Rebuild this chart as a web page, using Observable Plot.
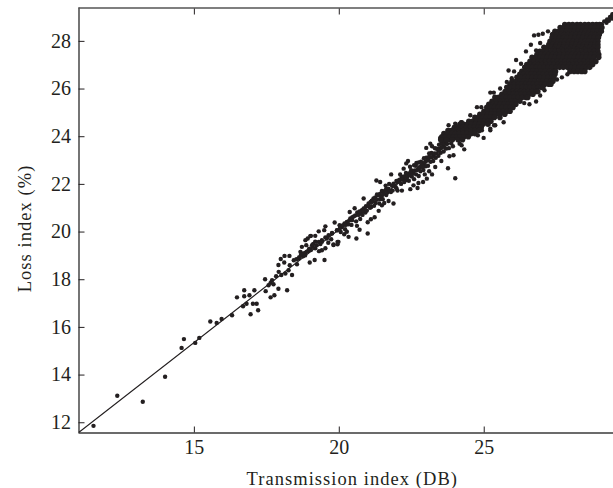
<!DOCTYPE html>
<html><head><meta charset="utf-8">
<script src="https://cdn.jsdelivr.net/npm/d3@7"></script>
<script src="https://cdn.jsdelivr.net/npm/@observablehq/plot@0.6"></script>
<style>html,body{margin:0;padding:0;background:#fff}svg{display:block}</style>
</head><body><div id="chart"></div>
<script>
const xTicks=[15,20,25];
const yTicks=[12,14,16,18,20,22,24,26,28];
const xDomain=[11.02,29.46];
const yDomain=[11.57,29.4];
const fitLine=[[11.02,11.6],[29,28.65]];
const xTitle=["Transmission index (DB)"];
const yTitle=["Loss index (%)"];
const color="#231f20";
const sparse=[[11.52,11.87],[12.34,13.13],[13.22,12.88],[13.99,13.93],[14.56,15.14],[14.64,15.51],[15.03,15.35],[15.17,15.56],[15.55,16.25],[15.77,16.19],[15.94,16.35],[16.3,16.51],[16.68,16.89],[16.8,16.99],[16.94,16.55],[17.02,16.99],[17.15,16.99],[17.2,16.72],
[16.47,17.26],[16.72,17.56],[16.72,17.31],[16.9,17.35],[17.07,17.56],[17.44,18.02],[17.46,17.52],[17.63,17.26],[17.76,17.35],[17.9,17.62],[18.2,17.56],[17.63,17.87],[17.56,17.77],[17.68,17.98],[17.73,17.81],[17.82,18.15],[17.91,18.33],[18.0,18.2],[18.14,18.26],[18.25,18.4],[18.37,18.2],[17.9,18.62],[18.1,18.72],[18.29,18.61],[17.98,18.87],[18.11,19.0],[18.28,19.0],[18.43,18.82],[18.54,18.65],[18.6,18.89],[18.71,19.03],[18.83,19.13],[18.66,19.17],[18.52,18.86],[18.75,18.98],[18.92,19.2],[19.02,19.25],[18.98,18.72],[19.15,18.83],[19.49,18.83],[18.86,19.45],[19.06,19.45],[18.91,19.73],[19.02,19.84],[19.17,19.84],[19.17,19.6],[19.29,19.59],[19.4,19.66],[19.52,19.77],[19.63,19.87],[19.75,19.96],[19.92,20.08],[19.8,19.46],[19.94,19.59],[19.4,19.24],[19.17,19.32],[19.3,19.2],[19.52,19.32],[18.71,19.38],[18.83,19.66],[19.0,19.83],[19.29,20.03],[19.52,20.24],[19.48,20.08],[19.84,20.4],[20.01,20.29]];
const band=[[19.4,19.59],[19.57,19.73],[19.75,19.94],[19.92,20.07],[20.09,20.21],[20.26,20.42],[20.38,20.57],[20.55,20.7],[20.72,20.78],[20.84,20.99],[21.01,21.2],[21.18,21.41],[21.36,21.54],[21.53,21.68],[21.7,21.82],[21.87,22.03],[22.05,22.17],[22.22,22.24],[22.39,22.38],[22.56,22.52],[22.73,22.66],[22.91,22.87],[23.08,23.08],[23.25,23.22],[23.42,23.43],[23.6,23.64],[23.77,23.85],[23.94,24.06],[24.11,24.13],[24.29,24.2],[24.46,24.34],
[20.18,20.36],[20.31,20.33],[20.45,20.62],[20.62,20.82],[20.78,20.92],[20.9,20.82],[21.06,21.02],[21.12,21.32],[21.25,21.22],[21.42,21.38],[21.47,21.72],[21.62,21.82],[21.62,21.55],[21.78,21.68],[21.95,21.88],[21.97,22.14],[22.13,22.02],[22.15,22.32],[22.3,22.48],[22.33,22.18],[22.48,22.6],[22.5,22.33],[22.65,22.42],[22.64,22.78],[22.8,22.55],[22.82,22.95],[22.98,22.76],[23.0,23.12],[23.15,22.95],[23.18,23.32],[23.33,23.12],[23.35,23.5],[23.5,23.33],[23.52,23.72],[23.68,23.5],[23.7,23.92],[23.86,23.72],[23.88,24.15],[24.02,23.95],[24.08,24.32],
[20.84,21.41],[20.53,21.0],[20.36,20.84],[21.28,22.16],[21.41,22.1],[21.79,22.42],[22.22,22.66],[22.37,22.98],[23.0,23.53],[23.14,23.71],[23.48,23.95],[22.31,22.88],[22.66,22.9],[23.2,23.6],[23.77,24.48],[24.0,24.55],[24.2,24.61],[23.83,24.27],[23.62,24.05],[23.95,24.4],
[24.0,22.26],[23.75,22.68],[24.31,23.47],[24.15,23.71],[24.22,23.64],[23.94,23.22],[23.8,23.18],[23.52,22.98],[23.31,22.73],[23.2,22.42],[23.02,22.24],[22.89,22.1],[22.7,21.85],[22.45,21.8],[22.73,22.06],[22.56,21.96],[23.1,22.55],[22.95,22.42],[21.87,21.2],[21.7,21.3],[21.47,21.12],[21.36,20.89],[21.55,21.22],[22.16,21.74],[22.01,21.74],[21.22,20.62],[21.09,20.54],[20.98,20.41],[20.98,19.94],[20.59,19.73],[20.7,20.1],[20.61,20.26],[20.32,19.8],[20.17,19.91],[20.26,20.01],[19.97,19.59],[19.8,19.48],[19.94,19.49]];
const bandCore=[[18.62,18.95],[18.68,19.05],[18.76,19.1],[18.82,19.02],[18.88,19.18],[18.96,19.3],[19.08,19.38],[20.02,20.15],[20.12,20.28],[20.22,20.3],[20.34,20.48],[20.44,20.5],[20.5,20.66],[20.66,20.72],[20.7,20.86],[20.82,20.88],[20.92,21.08],[21.0,21.1],[21.08,21.26],[21.16,21.3],[21.24,21.45],[21.3,21.36],[21.4,21.6],[21.46,21.5],[21.52,21.6],[21.58,21.74],[21.66,21.66],[21.72,21.74],[21.82,21.94],[21.9,21.96],[22.0,22.1],[22.08,22.2],[22.16,22.2],[22.26,22.34],[22.34,22.3],[22.42,22.46],[22.46,22.52],[22.52,22.45],[22.6,22.58],[22.68,22.6],[22.76,22.72],[22.84,22.8],[22.88,22.72],[22.96,22.94],[23.04,23.0],[23.1,23.16],[23.2,23.14],[23.28,23.3],[23.36,23.3],[23.46,23.5],[23.54,23.56],[23.62,23.72],[23.72,23.7],[23.78,23.96],[23.9,23.92],[23.98,24.14],[24.05,24.05],[24.16,24.22],[24.24,24.3],[24.36,24.28]];
const bandEdge=[[19.1,19.5],[19.22,19.45],[19.35,19.5],[19.62,19.55],[19.72,19.7],[20.05,20.0],[20.2,20.12],[20.42,20.3],[20.58,20.45],[20.72,20.55],[20.8,20.72],[20.95,20.9],[21.1,21.05],[21.2,21.1],[21.3,21.58],[21.38,21.2],[21.5,21.38],[21.6,21.95],[21.72,22.02],[21.84,21.74],[21.98,21.82],[22.1,22.42],[22.24,22.1],[22.4,22.15],[22.44,22.74],[22.58,22.22],[22.58,22.8],[22.74,22.35],[22.74,22.92],[22.9,22.6],[22.92,23.1],[23.06,22.78],[23.1,23.3],[23.24,22.98],[23.3,23.52],[23.42,23.2],[23.44,23.66],[23.6,23.38],[23.6,23.85],[23.78,23.52],[23.76,24.12],[23.92,23.6],[24.1,23.9],[24.3,24.05]];
const strays=[[26.72,28.25],[26.87,28.28],[27.02,28.32],[27.2,28.42],[26.61,27.86],[26.93,27.93],[26.44,27.58],[26.79,27.62],[26.27,27.06],[26.1,27.22],[25.84,26.78],[26.03,26.74],[25.95,26.45],[25.78,26.3],[25.21,25.85],[25.33,25.85],[25.55,26.02],[24.75,25.24],[24.9,25.24],[24.52,24.9],[24.23,24.61],
[28.02,26.75],[27.87,26.62],[27.68,26.49],[27.51,26.4],[27.08,25.95],[26.93,25.73],[26.79,25.48],[26.56,25.36],[26.38,25.41],[25.67,24.61],[25.61,24.97],[25.21,24.34],[24.92,24.41],[25.38,24.48],[25.21,24.27],[24.98,23.95],[24.78,24.06],[24.92,24.27],[25.34,24.48],
[29.06,28.72],[29.14,28.84],[29.22,28.78],[29.24,28.92],[29.3,28.86],[29.34,29.02],[29.4,28.96],[29.42,29.14],[29.46,29.08]];
const denseRows=[
[28.71,[27.78,27.92,28.05,28.2,28.32,28.47,28.6,28.74,28.87,28.98]],
[28.58,[27.62,27.75,27.88,28.02,28.15,28.28,28.42,28.55,28.68,28.82,28.95,29.06]],
[28.42,[27.44,27.58,27.7,27.84,27.98,28.1,28.24,28.37,28.5,28.64,28.77,28.9,29.04]],
[28.29,[27.36,27.5,27.64,27.77,27.9,28.04,28.17,28.3,28.44,28.57,28.7,28.84,28.97]],
[28.16,[27.34,27.47,27.6,27.74,27.87,28.0,28.14,28.27,28.4,28.54,28.67,28.8,28.94]],
[28.0,[27.27,27.4,27.54,27.67,27.8,27.94,28.07,28.2,28.34,28.47,28.6,28.74,28.86,28.92]],
[27.87,[27.23,27.36,27.5,27.63,27.76,27.9,28.03,28.16,28.3,28.43,28.56,28.7,28.83,28.92]],
[27.75,[27.06,27.2,27.33,27.46,27.6,27.73,27.86,28.0,28.13,28.26,28.4,28.53,28.66,28.8,28.92]],
[27.66,[27.12,27.39,27.67,27.93,28.2,28.46,28.73]],
[27.58,[26.92,27.05,27.18,27.32,27.45,27.58,27.72,27.85,27.98,28.12,28.25,28.38,28.52,28.65,28.78,28.92]],
[27.45,[26.82,26.96,27.09,27.22,27.36,27.49,27.62,27.76,27.89,28.02,28.16,28.29,28.42,28.56,28.69,28.82,28.95]],
[27.33,[26.65,26.78,26.92,27.05,27.18,27.32,27.45,27.58,27.72,27.85,27.98,28.12,28.25,28.38,28.52,28.65,28.78,28.95]],
[27.16,[26.58,26.72,26.85,26.98,27.12,27.25,27.38,27.52,27.65,27.78,27.92,28.05,28.18,28.32,28.45,28.58,28.72,28.85]],
[27.03,[26.47,26.6,26.74,26.87,27.0,27.14,27.27,27.4,27.54,27.67,27.8,27.94,28.07,28.2,28.34,28.47,28.6,28.74]],
[26.91,[26.4,26.53,26.67,26.8,26.93,27.07,27.2,27.33,27.47,27.6,27.73,27.87,28.0,28.13,28.27,28.4,28.53,28.64]],
[26.74,[26.3,26.43,26.57,26.7,26.83,26.97,27.1,27.23,27.37,27.46,27.96,28.1,28.23,28.36,28.47]],
[26.62,[26.23,26.36,26.5,26.63,26.76,26.9,27.03,27.16,27.3,27.44]],
[26.49,[26.13,26.26,26.4,26.53,26.66,26.8,26.93,27.06,27.2,27.33,27.4]],
[26.33,[25.96,26.1,26.23,26.36,26.5,26.63,26.76,26.9,27.03,27.16,27.3,27.37]],
[26.2,[25.89,26.03,26.16,26.29,26.43,26.56,26.69,26.83,26.96,27.09,27.23,27.3]],
[26.07,[25.78,25.92,26.05,26.18,26.32,26.45,26.58,26.72,26.85,26.98,27.02]],
[25.9,[25.72,25.85,25.99,26.12,26.25,26.39,26.52,26.65,26.79,26.85]],
[25.78,[25.61,25.74,25.88,26.01,26.14,26.28,26.41,26.54,26.68]],
[25.65,[25.37,25.5,25.64,25.77,25.9,26.04,26.17,26.3,26.44,26.5]],
[25.49,[25.27,25.4,25.54,25.67,25.8,25.94,26.07,26.23]],
[25.36,[25.16,25.3,25.43,25.56,25.7,25.83,25.96,26.09]],
[25.23,[25.09,25.22,25.36,25.49,25.62,25.76,25.89,25.99]],
[25.07,[24.99,25.12,25.26,25.39,25.52,25.66,25.79,25.89]],
[24.94,[24.85,24.98,25.12,25.25,25.38,25.52,25.71]],
[24.81,[24.68,24.82,24.95,25.08,25.22,25.35,25.54]],
[24.65,[24.47,24.6,24.74,24.87,25.0,25.14,25.23]],
[24.52,[24.16,24.3,24.43,24.56,24.7,24.83,24.96,25.13]],
[24.39,[23.99,24.12,24.26,24.39,24.52,24.66,24.79,24.89]],
[24.26,[23.75,23.88,24.02,24.15,24.28,24.42,24.55,24.68,24.82]],
[24.13,[23.61,23.74,23.88,24.01,24.14,24.27,24.4,24.55,24.68]],
[24.0,[23.54,23.67,23.8,23.94,24.05,24.16,24.3,24.45]],
[23.87,[23.5,23.7,23.9,24.1,24.25]]
];
const dense=denseRows.flatMap(([y,xs])=>xs.map(x=>[x,y]));
const points=[...sparse,...band,...bandCore,...bandEdge,...strays];

const chart=Plot.plot({
  width:613,height:488,
  marginLeft:78.5,marginRight:0,marginTop:7.5,marginBottom:55.5,
  style:{fontFamily:"'Liberation Serif',serif",fontSize:"20px",color:color,background:"#fff"},
  x:{domain:xDomain},
  y:{domain:yDomain},
  marks:[
    Plot.ruleX([xDomain[0]],{stroke:"#3a3a3a",strokeWidth:1.4}),
    Plot.ruleY([yDomain[0]],{stroke:"#3a3a3a",strokeWidth:1.4}),
    Plot.ruleY([yDomain[1]],{stroke:"#555",strokeWidth:1.4}),
    Plot.axisX({anchor:"bottom",ticks:xTicks,tickSize:-6,tickPadding:13,stroke:color,fill:color,label:null}),
    Plot.axisX({anchor:"top",ticks:xTicks,tickSize:-6,tickFormat:()=>"",label:null,stroke:color}),
    Plot.axisY({anchor:"left",ticks:yTicks,tickSize:-6,tickPadding:14,stroke:color,fill:color,label:null}),
    Plot.text(xTitle,{frameAnchor:"bottom",textAnchor:"middle",dx:6,dy:52,fontSize:18.5,fill:color}),
    Plot.text(yTitle,{frameAnchor:"left",textAnchor:"middle",rotate:-90,dx:-54,dy:8,fontSize:18.5,fill:color}),
    Plot.line(fitLine,{x:d=>d[0],y:d=>d[1],stroke:color,strokeWidth:1.1}),
    Plot.dot(points,{x:d=>d[0],y:d=>d[1],r:2.2,fill:color,stroke:"none"}),
    Plot.dot(dense,{x:d=>d[0],y:d=>d[1],r:2.8,fill:color,stroke:"none"})
  ]
});
d3.select(chart).selectAll('g[aria-label="text"] text').style("letter-spacing","1.05px");
document.getElementById("chart").append(chart);
</script></body></html>
